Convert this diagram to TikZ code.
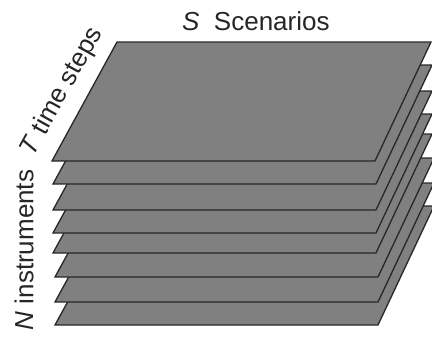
\documentclass[tikz,border=0pt]{standalone}
\usepackage{fontspec}
\setmainfont{Liberation Sans}
\definecolor{sheetgray}{RGB}{128,128,128}
\definecolor{edgegray}{RGB}{40,40,40}
\newcommand{\sheet}[2]{%
	\filldraw[layer,shift={(#1,#2)}] (117,42) -- (431,42) -- (375,161) -- (52,161) -- cycle;}

\begin{document}
\begin{tikzpicture}[x=1pt,y=-1pt,
	layer/.style={fill=sheetgray,draw=edgegray,line width=1.3pt,line join=miter},
	lbl/.style={font=\fontsize{26}{30}\selectfont,inner sep=0pt,text=black!85}]
	\useasboundingbox (0,0) rectangle (432,341);
	\clip (0,0) rectangle (432,341);
	% stack of sheets, lowest first
	\sheet{3}{164}
	\sheet{3}{141}
	\sheet{3}{116}
	\sheet{1}{92}
	\sheet{1}{72}
	\sheet{1}{49}
	\sheet{1}{23}
	\sheet{0}{0}
	%
	\node[lbl,anchor=base west] (scen) at (182,30) {\textit{S}\ \ Scenarios};
	\node[lbl,rotate=61] (time) at (62,92) {\textit{T} time steps};
	\node[lbl,rotate=90] (inst) at (24,250) {\textit{N} instruments};
\end{tikzpicture}
\end{document}
